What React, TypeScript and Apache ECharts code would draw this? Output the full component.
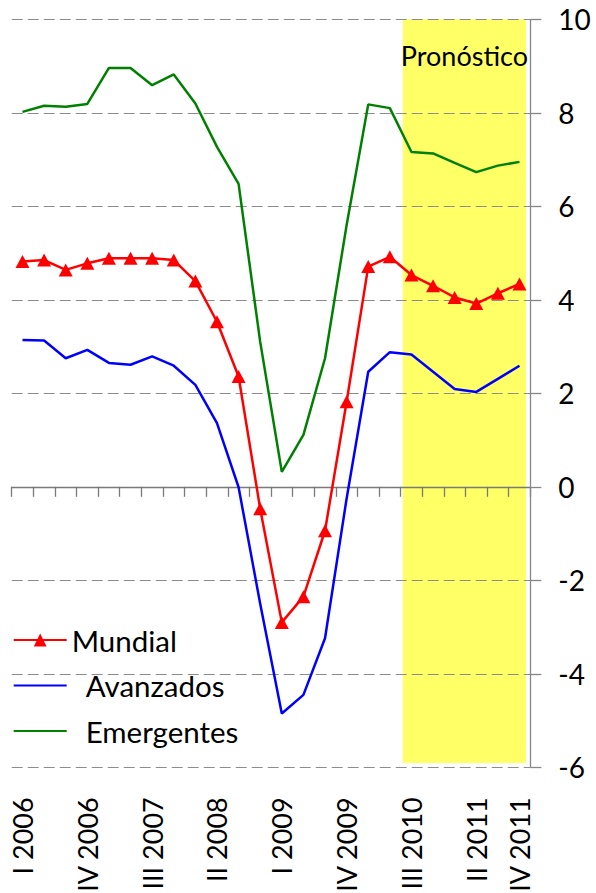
import React, { useEffect, useRef } from "react";
import * as echarts from "echarts";

const categories = [
  "I 2006", "II 2006", "III 2006", "IV 2006",
  "I 2007", "II 2007", "III 2007", "IV 2007",
  "I 2008", "II 2008", "III 2008", "IV 2008",
  "I 2009", "II 2009", "III 2009", "IV 2009",
  "I 2010", "II 2010", "III 2010", "IV 2010",
  "I 2011", "II 2011", "III 2011", "IV 2011",
];

const mundial = [4.82, 4.85, 4.64, 4.78, 4.89, 4.89, 4.89, 4.85, 4.40, 3.53, 2.36, -0.47, -2.90, -2.35, -0.94, 1.82, 4.71, 4.92, 4.53, 4.30, 4.05, 3.92, 4.14, 4.34];
const avanzados = [3.14, 3.13, 2.75, 2.93, 2.65, 2.61, 2.79, 2.59, 2.18, 1.36, -0.01, -2.5, -4.85, -4.45, -3.24, -0.25, 2.46, 2.88, 2.83, 2.46, 2.09, 2.03, 2.31, 2.59];
const emergentes = [8.02, 8.15, 8.13, 8.19, 8.96, 8.96, 8.59, 8.82, 8.20, 7.27, 6.48, 3.1, 0.32, 1.11, 2.75, 5.6, 8.18, 8.10, 7.16, 7.13, 6.93, 6.73, 6.87, 6.95];

const labelIndices = [0, 3, 6, 9, 12, 15, 18, 21, 23];

// Forecast band, in data units (x: quarter position, y: value)
const forecastX = [18.1, 23.8];
const forecastY = [-5.91, 10.04];
const forecastLabel = "Pronóstico";
const axisEnd = categories.length;

const FONT = "Lato";
const GRID = { left: 11.7, right: 65.7, top: 19.3, bottom: 125.7, containLabel: false, outerBoundsMode: "none", show: false };

export default function App() {
  const ref = useRef<HTMLDivElement>(null);
  useEffect(() => {
    if (!ref.current) return;
    const chart = echarts.init(ref.current, null, { renderer: "svg" });
    chart.setOption({
      animation: false,
      textStyle: { fontFamily: FONT, color: "#000" },
      grid: [{ ...GRID }, { ...GRID }],
      legend: {
        orient: "vertical",
        left: 12.7,
        top: 623,
        padding: 0,
        itemWidth: 53,
        itemHeight: 16,
        itemGap: 11.5,
        data: [
          { name: "Mundial" },
          { name: "Avanzados", itemStyle: { opacity: 0 } },
          { name: "Emergentes", itemStyle: { opacity: 0 } },
        ],
        formatter: (name: string) => (name === "Mundial" ? name : "{p|" + name + "}"),
        textStyle: {
          fontFamily: FONT,
          fontSize: 29.5,
          lineHeight: 34,
          color: "#000",
          rich: {
            p: { fontFamily: FONT, fontSize: 29.5, lineHeight: 34, color: "#000", padding: [0, 0, 0, 14] },
          },
        },
      },
      xAxis: [
        {
          gridIndex: 0,
          type: "category",
          data: categories,
          position: "bottom",
          boundaryGap: true,
          axisLine: { show: true, onZero: true, lineStyle: { color: "#7a7a7a", width: 1.3 } },
          axisTick: { show: true, inside: false, length: 10, interval: 0, lineStyle: { color: "#7a7a7a", width: 1.3 } },
          axisLabel: { show: false },
          splitLine: { show: false },
          splitArea: { show: false },
        },
        {
          gridIndex: 0,
          type: "category",
          data: categories,
          position: "bottom",
          boundaryGap: true,
          axisLine: { show: false, onZero: false },
          axisTick: { show: false },
          axisLabel: {
            show: true,
            rotate: 90,
            margin: 30,
            fontFamily: FONT,
            fontSize: 27,
            color: "#000",
            interval: (index: number) => labelIndices.indexOf(index) >= 0,
          },
          splitLine: { show: false },
          splitArea: { show: false },
        },
        {
          gridIndex: 1,
          type: "value",
          min: 0,
          max: axisEnd,
          show: false,
        },
      ],
      yAxis: [
        {
          gridIndex: 0,
          type: "value",
          position: "right",
          min: -6,
          max: 10,
          interval: 2,
          axisLine: { show: false, onZero: false },
          axisTick: { show: true, inside: false, length: 11, lineStyle: { color: "#868686", width: 1.3 } },
          axisLabel: { margin: 28, fontFamily: FONT, fontSize: 28, color: "#000", align: "left" },
          splitLine: { show: true, lineStyle: { color: "#8c8c8c", type: [11, 5], width: 1.2 } },
          splitArea: { show: false },
        },
        {
          gridIndex: 1,
          type: "value",
          min: -6,
          max: 10,
          show: false,
        },
      ],
      series: [
        {
          name: "forecast",
          type: "line",
          xAxisIndex: 2,
          yAxisIndex: 1,
          data: [],
          z: -1,
          silent: true,
          markArea: {
            silent: true,
            z: -1,
            itemStyle: { color: "#FFFF66", opacity: 1 },
            label: {
              show: true,
              position: "insideTop",
              distance: 23,
              fontFamily: FONT,
              fontSize: 27,
              color: "#000",
            },
            data: [
              [
                { name: forecastLabel, xAxis: forecastX[0], yAxis: forecastY[0] },
                { xAxis: forecastX[1], yAxis: forecastY[1] },
              ],
            ],
          },
          markLine: {
            silent: true,
            symbol: ["none", "none"],
            label: { show: false },
            lineStyle: { color: "#868686", width: 1.3, type: "solid" },
            data: [{ xAxis: axisEnd }],
          },
        },
        {
          name: "Mundial",
          type: "line",
          data: mundial,
          symbol: "triangle",
          symbolSize: [14, 13],
          showSymbol: true,
          lineStyle: { color: "#FF0000", width: 2.5 },
          itemStyle: { color: "#FF0000" },
          z: 5,
        },
        {
          name: "Avanzados",
          type: "line",
          data: avanzados,
          symbol: "none",
          lineStyle: { color: "#0000FF", width: 2.5 },
          itemStyle: { color: "#0000FF" },
          z: 4,
        },
        {
          name: "Emergentes",
          type: "line",
          data: emergentes,
          symbol: "none",
          lineStyle: { color: "#008000", width: 2.5 },
          itemStyle: { color: "#008000" },
          z: 3,
        },
      ],
    });
    return () => chart.dispose();
  }, []);
  return (
    <div
      ref={ref}
      style={{ position: "fixed", left: 0, top: 0, width: 596, height: 893, background: "#fff" }}
    />
  );
}
